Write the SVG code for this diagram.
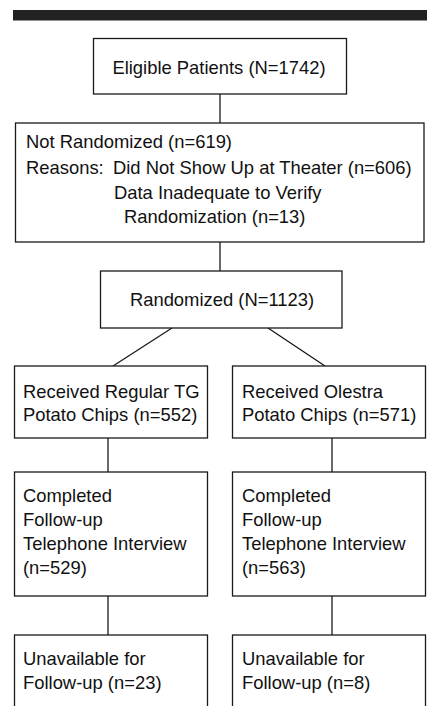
<svg xmlns="http://www.w3.org/2000/svg" width="427" height="706" viewBox="0 0 427 706">
<style>
.box{fill:#fff;stroke:#1a1a1a;stroke-width:1.3}
.ln{stroke:#1a1a1a;stroke-width:1.3;fill:none}
text{font-family:"Liberation Sans",Arial,sans-serif;font-size:18.4px;fill:#111}
.c{text-anchor:middle}
</style>
<rect x="0" y="0" width="427" height="706" fill="#fff"/>
<rect x="13" y="10" width="414" height="10.5" fill="#222"/>
<g id="connectors">
<line class="ln" x1="220" y1="94" x2="220" y2="123"/>
<line class="ln" x1="220" y1="242" x2="220" y2="271"/>
<line class="ln" x1="172" y1="328" x2="113" y2="366"/>
<line class="ln" x1="268" y1="328" x2="325" y2="366"/>
<line class="ln" x1="108" y1="438" x2="108" y2="472"/>
<line class="ln" x1="332" y1="438" x2="332" y2="472"/>
<line class="ln" x1="108" y1="596" x2="108" y2="635"/>
<line class="ln" x1="332" y1="596" x2="332" y2="635"/>
</g>
<g id="eligible">
<rect class="box" x="93.5" y="38.5" width="253" height="55.5"/>
<text class="c" x="219" y="74">Eligible Patients (N=1742)</text>
</g>
<g id="not-randomized">
<rect class="box" x="15.5" y="123" width="408.5" height="119"/>
<text x="26" y="148">Not Randomized (n=619)</text>
<text x="26" y="174">Reasons:</text>
<text x="113" y="174">Did Not Show Up at Theater (n=606)</text>
<text x="114" y="199">Data Inadequate to Verify</text>
<text x="124" y="223">Randomization (n=13)</text>
</g>
<g id="randomized">
<rect class="box" x="100.5" y="271" width="241.5" height="57"/>
<text class="c" x="222" y="306">Randomized (N=1123)</text>
</g>
<g id="regular">
<rect class="box" x="14.5" y="366" width="193" height="72"/>
<text x="23" y="398">Received Regular TG</text>
<text x="23" y="421">Potato Chips (n=552)</text>
</g>
<g id="olestra">
<rect class="box" x="232.5" y="366" width="193" height="72"/>
<text x="242" y="398">Received Olestra</text>
<text x="242" y="421">Potato Chips (n=571)</text>
</g>
<g id="completed-regular">
<rect class="box" x="14.5" y="472" width="193" height="124"/>
<text x="23" y="502">Completed</text>
<text x="23" y="526">Follow-up</text>
<text x="23" y="550">Telephone Interview</text>
<text x="23" y="574">(n=529)</text>
</g>
<g id="completed-olestra">
<rect class="box" x="232.5" y="472" width="193" height="124"/>
<text x="242" y="502">Completed</text>
<text x="242" y="526">Follow-up</text>
<text x="242" y="550">Telephone Interview</text>
<text x="242" y="574">(n=563)</text>
</g>
<g id="unavailable-regular">
<rect class="box" x="14.5" y="635" width="193" height="90"/>
<text x="23" y="665">Unavailable for</text>
<text x="23" y="689">Follow-up (n=23)</text>
</g>
<g id="unavailable-olestra">
<rect class="box" x="232.5" y="635" width="193" height="90"/>
<text x="242" y="665">Unavailable for</text>
<text x="242" y="689">Follow-up (n=8)</text>
</g>
</svg>
